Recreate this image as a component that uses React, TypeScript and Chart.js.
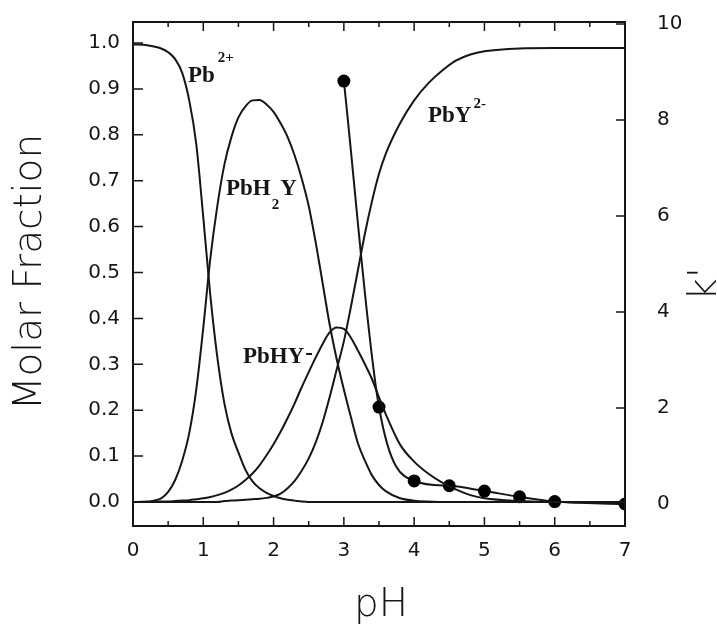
import React, { useEffect, useRef } from "react";
import { Chart, registerables } from "chart.js";

Chart.register(...registerables);

// pH grid shared by the speciation curves
const pH = [0, 0.2, 0.4, 0.5, 0.6, 0.7, 0.8, 0.9, 1.0, 1.1, 1.2, 1.3, 1.4, 1.5, 1.6, 1.7, 1.8, 1.9, 2.0, 2.1, 2.2, 2.3, 2.4, 2.5, 2.6, 2.7, 2.8, 2.9, 3.0, 3.1, 3.2, 3.3, 3.4, 3.5, 3.6, 3.8, 4.0, 4.2, 4.4, 4.6, 4.8, 5.0, 5.5, 6.0, 6.5, 7.0];

// Molar fractions (left axis)
const pb2 = [0.997, 0.995, 0.988, 0.98, 0.965, 0.935, 0.875, 0.78, 0.62, 0.45, 0.315, 0.215, 0.15, 0.108, 0.07, 0.045, 0.03, 0.02, 0.013, 0.008, 0.005, 0.003, 0.001, 0, 0, 0, 0, 0, 0, 0, 0, 0, 0, 0, 0, 0, 0, 0, 0, 0, 0, 0, 0, 0, 0, 0];
const pbh2y = [0, 0.001, 0.008, 0.022, 0.048, 0.09, 0.15, 0.245, 0.38, 0.53, 0.645, 0.735, 0.795, 0.838, 0.862, 0.875, 0.876, 0.866, 0.85, 0.825, 0.795, 0.755, 0.705, 0.645, 0.565, 0.475, 0.385, 0.31, 0.245, 0.185, 0.128, 0.09, 0.058, 0.037, 0.023, 0.008, 0.003, 0.001, 0, 0, 0, 0, 0, 0, 0, 0];
const pbhy = [0, 0, 0.001, 0.001, 0.002, 0.003, 0.004, 0.006, 0.008, 0.011, 0.015, 0.02, 0.027, 0.036, 0.048, 0.062, 0.08, 0.102, 0.126, 0.153, 0.183, 0.215, 0.25, 0.283, 0.315, 0.345, 0.37, 0.38, 0.377, 0.358, 0.33, 0.3, 0.268, 0.228, 0.19, 0.125, 0.088, 0.062, 0.042, 0.027, 0.015, 0.008, 0.002, 0, 0, 0];
const pby = [0, 0, 0, 0, 0, 0, 0, 0, 0, 0, 0, 0.002, 0.003, 0.004, 0.005, 0.006, 0.007, 0.009, 0.012, 0.018, 0.03, 0.046, 0.068, 0.095, 0.13, 0.175, 0.23, 0.29, 0.35, 0.425, 0.505, 0.585, 0.655, 0.715, 0.76, 0.825, 0.875, 0.912, 0.94, 0.962, 0.975, 0.982, 0.988, 0.989, 0.989, 0.989];

// Measured k' (right axis)
const kPH = [3, 3.5, 4, 4.5, 5, 5.5, 6, 7];
const kValues = [8.81, 2.02, 0.48, 0.38, 0.27, 0.15, 0.05, 0.0];

// Ticks
const xTicks = [0, 1, 2, 3, 4, 5, 6, 7];
const xMinorTicks = [0.5, 1.5, 2.5, 3.5, 4.5, 5.5, 6.5];
const yLeftTicks = [0, 0.1, 0.2, 0.3, 0.4, 0.5, 0.6, 0.7, 0.8, 0.9, 1.0];
const yRightTicks = [0, 2, 4, 6, 8, 10];

const INK = "#161616";
const TICK_FONT = { family: "'DejaVu Sans', sans-serif", size: 20 };
const LABEL_FONT = "bold 23px 'Liberation Serif', serif";
const SUP_FONT = "bold 15px 'Liberation Serif', serif";
const TITLE_FONT = "200 39px 'DejaVu Sans', sans-serif";

const framePlugin = {
  id: "frame",
  afterDatasetsDraw(chart: any) {
    const { ctx, chartArea, scales } = chart;
    const { left, right, top, bottom } = chartArea;
    const x = scales.x, y = scales.y, y1 = scales.y1;
    ctx.save();
    ctx.strokeStyle = INK;
    ctx.lineWidth = 2;
    ctx.strokeRect(left, top, right - left, bottom - top);
    ctx.lineWidth = 1.5;
    ctx.beginPath();
    xTicks.forEach((v) => {
      const px = x.getPixelForValue(v);
      ctx.moveTo(px, bottom); ctx.lineTo(px, bottom - 9);
      ctx.moveTo(px, top); ctx.lineTo(px, top + 9);
    });
    xMinorTicks.forEach((v) => {
      const px = x.getPixelForValue(v);
      ctx.moveTo(px, bottom); ctx.lineTo(px, bottom - 5);
      ctx.moveTo(px, top); ctx.lineTo(px, top + 5);
    });
    yLeftTicks.forEach((v) => {
      const py = y.getPixelForValue(v);
      ctx.moveTo(left, py); ctx.lineTo(left + 10, py);
    });
    yRightTicks.forEach((v) => {
      const py = y1.getPixelForValue(v);
      ctx.moveTo(right, py); ctx.lineTo(right - 9, py);
    });
    ctx.stroke();

    // curve labels
    ctx.fillStyle = INK;
    ctx.textBaseline = "alphabetic";
    ctx.textAlign = "left";
    const put = (t: string, px: number, py: number, font: string) => {
      ctx.font = font;
      ctx.fillText(t, px, py);
      return px + ctx.measureText(t).width;
    };
    let e = put("Pb", 188, 82, LABEL_FONT);
    put("2+", e + 3, 62, SUP_FONT);
    e = put("PbH", 226, 195, LABEL_FONT);
    e = put("2", e + 1, 209, SUP_FONT);
    put("Y", e + 1, 195, LABEL_FONT);
    e = put("PbHY", 243, 363, LABEL_FONT);
    put("-", e + 1, 360, LABEL_FONT);
    e = put("PbY", 428, 122, LABEL_FONT);
    put("2-", e + 2, 108, SUP_FONT);

    // axis titles
    ctx.font = TITLE_FONT;
    ctx.textAlign = "center";
    ctx.textBaseline = "middle";
    ctx.save();
    ctx.translate(31, 272);
    ctx.rotate(-Math.PI / 2);
    ctx.fillText("Molar Fraction", 0, 0);
    ctx.restore();
    ctx.fillText("pH", 381, 606);
    ctx.save();
    ctx.translate(706, 284);
    ctx.rotate(-Math.PI / 2);
    ctx.fillText("k'", 0, 0);
    ctx.restore();
    ctx.restore();
  },
};

function curve(ys: number[]) {
  return {
    data: pH.map((x, i) => ({ x, y: ys[i] })),
    yAxisID: "y",
    borderColor: INK,
    borderWidth: 2,
    pointRadius: 0,
    cubicInterpolationMode: "monotone" as const,
    fill: false,
  };
}

const zeroPad = (s: any) => {
  s.paddingTop = 0;
  s.paddingBottom = 0;
  s.paddingLeft = 0;
  s.paddingRight = 0;
};

export default function App() {
  const ref = useRef<HTMLCanvasElement | null>(null);
  useEffect(() => {
    if (!ref.current) return;
    const axisBase = {
      grid: { display: false, drawTicks: false },
      border: { display: false },
    };
    const chart = new Chart(ref.current, {
      type: "line",
      data: {
        datasets: [
          curve(pb2),
          curve(pbh2y),
          curve(pbhy),
          curve(pby),
          {
            data: kPH.map((x, i) => ({ x, y: kValues[i] })),
            yAxisID: "y1",
            borderColor: INK,
            borderWidth: 2,
            pointRadius: 5.5,
            pointBackgroundColor: "#000",
            pointBorderColor: "#000",
            cubicInterpolationMode: "monotone",
            fill: false,
          } as any,
        ],
      },
      options: {
        animation: false,
        responsive: false,
        layout: { padding: { top: 22, left: 0, right: 0, bottom: 0 } },
        plugins: { legend: { display: false }, tooltip: { enabled: false } },
        scales: {
          x: {
            ...axisBase,
            type: "linear",
            position: "bottom",
            min: 0,
            max: 7,
            afterBuildTicks: (s: any) => { s.ticks = xTicks.map((v) => ({ value: v })); },
            afterFit: (s: any) => { s.height = 109; zeroPad(s); },
            ticks: { padding: 13, font: TICK_FONT, color: INK, autoSkip: false, maxRotation: 0, callback: (v: any) => String(v) },
          },
          y: {
            ...axisBase,
            type: "linear",
            position: "left",
            min: -0.0523,
            max: 1.0458,
            afterBuildTicks: (s: any) => { s.ticks = yLeftTicks.map((v) => ({ value: v })); },
            afterFit: (s: any) => { s.width = 133; zeroPad(s); },
            ticks: { padding: 13, font: TICK_FONT, color: INK, autoSkip: false, callback: (v: any) => Number(v).toFixed(1) },
          },
          y1: {
            ...axisBase,
            type: "linear",
            position: "right",
            min: -0.458,
            max: 10.04,
            afterBuildTicks: (s: any) => { s.ticks = yRightTicks.map((v) => ({ value: v })); },
            afterFit: (s: any) => { s.width = 92; zeroPad(s); },
            ticks: { padding: 32, font: TICK_FONT, color: INK, autoSkip: false, callback: (v: any) => String(v) },
          },
        },
      } as any,
      plugins: [framePlugin],
    });
    return () => chart.destroy();
  }, []);
  return (
    <div style={{ position: "fixed", left: 0, top: 0, width: 717, height: 635, background: "#fff" }}>
      <canvas ref={ref} width={717} height={635} style={{ display: "block" }} />
    </div>
  );
}
